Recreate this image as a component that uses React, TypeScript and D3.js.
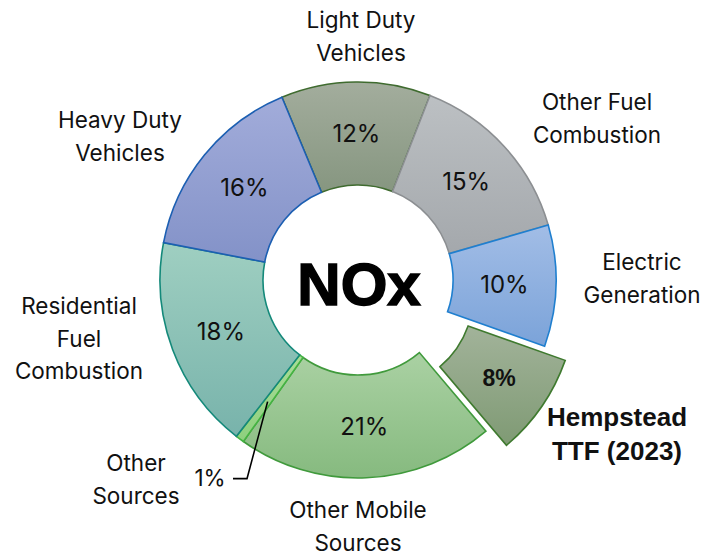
import React from 'react';
import * as d3 from 'd3';

// clockwise from the top, starting with Light Duty Vehicles
const categories = [
    'Light Duty Vehicles',
    'Other Fuel Combustion',
    'Electric Generation',
    'Hempstead TTF (2023)',
    'Other Mobile Sources',
    'Other Sources',
    'Residential Fuel Combustion',
    'Heavy Duty Vehicles',
];
const shares = [12.2, 14.6, 9.9, 8.4, 21.0, 0.7, 17.5, 15.7];
const percentLabels = ['12%', '15%', '10%', '8%', '21%', '1%', '18%', '16%'];
const nameLines = [
    ['Light Duty', 'Vehicles'],
    ['Other Fuel', 'Combustion'],
    ['Electric', 'Generation'],
    ['Hempstead', 'TTF (2023)'],
    ['Other Mobile', 'Sources'],
    ['Other', 'Sources'],
    ['Residential', 'Fuel', 'Combustion'],
    ['Heavy Duty', 'Vehicles'],
];
const highlighted = 'Hempstead TTF (2023)';

// style / layout
const fills = [
    ['#a3ad9d', '#869680'],
    ['#bcc0c3', '#a4a8ac'],
    ['#a2bde6', '#7ba3d9'],
    ['#a2b39a', '#7f9a74'],
    ['#aad1a3', '#86ba7f'],
    ['#a8dc98', '#8ed07e'],
    ['#9fcfc1', '#78b3ab'],
    ['#a2acda', '#8392c8'],
];
const strokes = ['#3f6b2f', '#8c8f92', '#1f7fcf', '#3f7a2f', '#409a3c', '#45b342', '#14897a', '#1c5fb2'];
const nameAnchors = [
    [361, 28], [597, 110], [642, 270], [617, 426],
    [358, 518], [136, 471], [79, 314], [120, 128],
];

const W = 705;
const H = 554;
const cx = 358;
const cy = 280;
const outerR = 198;
const innerR = 95;
const explode = 25;
const startDeg = -22.6;
const font = 'Inter, "Open Sans", sans-serif';

export default function App() {
    const start = (startDeg * Math.PI) / 180;
    const pie = d3
        .pie<number>()
        .sort(null)
        .value((d) => d)
        .startAngle(start)
        .endAngle(start + Math.PI * 2);
    const arcs = pie(shares);

    const arc = d3.arc<d3.PieArcDatum<number>>().innerRadius(innerR).outerRadius(outerR);

    const offset = (a: d3.PieArcDatum<number>, i: number) => {
        if (categories[i] !== highlighted) return [0, 0];
        const mid = (a.startAngle + a.endAngle) / 2;
        return [Math.sin(mid) * explode, -Math.cos(mid) * explode];
    };

    const small = categories.indexOf('Other Sources');
    const smallMid = (arcs[small].startAngle + arcs[small].endAngle) / 2;
    const leaderR = (innerR + outerR) / 2 + 5;
    const lx = cx + Math.sin(smallMid) * leaderR;
    const ly = cy - Math.cos(smallMid) * leaderR;

    return (
        <svg
            width={W}
            height={H}
            style={{ position: 'absolute', left: 0, top: 0, background: '#fff' }}
            fontFamily={font}
        >
            <defs>
                {fills.map((f, i) => (
                    <linearGradient key={i} id={`slice-grad-${i}`} x1="0" y1="0" x2="0" y2="1">
                        <stop offset="0%" stopColor={f[0]} />
                        <stop offset="100%" stopColor={f[1]} />
                    </linearGradient>
                ))}
            </defs>
            <g transform={`translate(${cx},${cy})`}>
                {arcs.map((a, i) => {
                    const [dx, dy] = offset(a, i);
                    return (
                        <path
                            key={categories[i]}
                            d={arc(a) || ''}
                            transform={`translate(${dx},${dy})`}
                            fill={`url(#slice-grad-${i})`}
                            stroke={strokes[i]}
                            strokeWidth={1.6}
                            strokeLinejoin="miter"
                        />
                    );
                })}
                {arcs.map((a, i) => {
                    if (i === small) return null;
                    const [dx, dy] = offset(a, i);
                    const [x, y] = arc.centroid(a);
                    const bold = categories[i] === highlighted;
                    return (
                        <text
                            key={`p-${i}`}
                            x={x + dx}
                            y={y + dy}
                            dy="0.36em"
                            textAnchor="middle"
                            fontSize={bold ? 23 : 24}
                            fontWeight={bold ? 700 : 400}
                            fontFamily={bold ? '"Liberation Sans", Arial, sans-serif' : font}
                            fill="#111"
                        >
                            {percentLabels[i]}
                        </text>
                    );
                })}
            </g>

            <text
                x={cx + 1}
                y={305}
                textAnchor="middle"
                fontFamily='"Liberation Sans", Arial, sans-serif'
                fontWeight={700}
                fontSize={60}
                fill="#000"
                stroke="#000"
                strokeWidth={1.5}
            >
                NOx
            </text>

            {/* leader for the tiny slice */}
            <polyline
                points={`233,${ly + 77} 247,${ly + 77} ${lx},${ly}`}
                fill="none"
                stroke="#000"
                strokeWidth={1.6}
            />
            <text x={210} y={486} textAnchor="middle" fontSize={22.5} fill="#111">
                {percentLabels[small]}
            </text>

            {nameLines.map((lines, i) => {
                const bold = categories[i] === highlighted;
                const gap = bold ? 34 : 32.5;
                return (
                    <text
                        key={`n-${i}`}
                        x={nameAnchors[i][0]}
                        y={nameAnchors[i][1]}
                        textAnchor="middle"
                        fontSize={bold ? 26 : 22.5}
                        fontWeight={bold ? 700 : 400}
                        fontFamily={bold ? '"Liberation Sans", Arial, sans-serif' : font}
                        fill="#111"
                    >
                        {lines.map((l, j) => (
                            <tspan key={j} x={nameAnchors[i][0]} dy={j === 0 ? 0 : gap}>
                                {l}
                            </tspan>
                        ))}
                    </text>
                );
            })}
        </svg>
    );
}
